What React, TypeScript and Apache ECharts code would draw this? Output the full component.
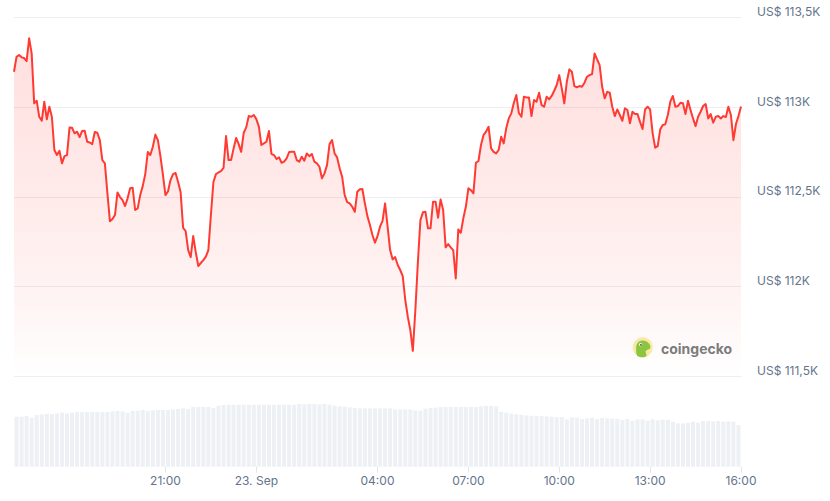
import React, { useEffect, useRef } from "react";
import * as echarts from "echarts";

// Bitcoin price (US$), 5-minute steps from 22 Sep 16:00 to 23 Sep 16:00
const PRICES: number[] = [
  113197, 113280, 113290, 113277, 113273, 113256, 113383, 113299, 113021, 113035,
  112946, 112924, 113030, 112932, 113002, 112946, 112761, 112733, 112757, 112687,
  112727, 112733, 112887, 112885, 112854, 112863, 112833, 112867, 112868, 112807,
  112803, 112794, 112861, 112857, 112816, 112705, 112687, 112521, 112365, 112377,
  112399, 112525, 112499, 112482, 112449, 112492, 112548, 112551, 112427, 112436,
  112510, 112560, 112627, 112750, 112733, 112779, 112847, 112816, 112727, 112622,
  112510, 112530, 112594, 112627, 112633, 112583, 112527, 112327, 112310, 112204,
  112165, 112282, 112193, 112115, 112132, 112148, 112167, 112204, 112399, 112583,
  112627, 112636, 112644, 112661, 112839, 112705, 112705, 112770, 112828, 112794,
  112751, 112857, 112887, 112950, 112946, 112956, 112933, 112891, 112789, 112798,
  112807, 112867, 112739, 112733, 112711, 112720, 112690, 112696, 112715, 112750,
  112751, 112751, 112705, 112696, 112724, 112701, 112742, 112727, 112739, 112696,
  112687, 112668, 112603, 112631, 112677, 112794, 112816, 112742, 112720, 112659,
  112612, 112510, 112471, 112464, 112445, 112417, 112529, 112542, 112544, 112464,
  112393, 112343, 112288, 112245, 112282, 112334, 112367, 112464, 112334, 112204,
  112152, 112165, 112121, 112093, 112059, 111926, 111833, 111759, 111643, 111870,
  112137, 112371, 112414, 112417, 112325, 112325, 112473, 112473, 112384, 112486,
  112427, 112219, 112237, 112219, 112204, 112046, 112319, 112300, 112381, 112445,
  112548, 112538, 112520, 112690, 112700, 112789, 112844, 112863, 112891, 112770,
  112751, 112742, 112761, 112835, 112798, 112882, 112937, 112965, 113023, 113067,
  112967, 112946, 113058, 113054, 113054, 112950, 113039, 113030, 113080, 113011,
  113002, 113058, 113043, 113062, 113091, 113123, 113178, 113104, 113021, 113141,
  113210, 113197, 113117, 113110, 113117, 113113, 113136, 113169, 113178, 113184,
  113299, 113266, 113234, 113113, 113049, 113085, 113080, 113002, 112950, 112987,
  112956, 112924, 112993, 112984, 112910, 112974, 112961, 112961, 112918, 112878,
  112987, 113002, 112987, 112854, 112774, 112783, 112876, 112900, 112904, 112956,
  113030, 113062, 113002, 113006, 113024, 113021, 112961, 113035, 112984, 112937,
  112894, 112946, 112974, 113006, 113017, 112937, 112961, 112913, 112946, 112950,
  112937, 112950, 112945, 113002, 112956, 112816, 112906, 112950, 113003,
];

// Relative trading volume, 10-minute slots over the same 24 hours
const VOLUMES: number[] = [
  50.0, 50.0, 50.7, 49.0, 51.7, 52.3, 52.7, 52.7, 53.3, 54.0,
  53.3, 54.0, 54.7, 54.7, 54.7, 54.7, 54.7, 54.7, 54.7, 55.3,
  55.7, 55.3, 54.0, 55.7, 56.0, 56.7, 55.7, 56.3, 56.7, 56.7,
  56.7, 57.3, 57.7, 58.3, 57.7, 59.7, 59.7, 59.7, 59.7, 58.7,
  61.0, 61.7, 62.0, 62.0, 62.0, 62.0, 62.0, 62.0, 62.0, 62.0,
  62.0, 62.0, 62.0, 62.0, 62.0, 62.0, 62.7, 62.3, 62.7, 62.7,
  62.3, 62.7, 62.0, 61.0, 60.3, 60.0, 59.3, 58.7, 58.3, 58.3,
  58.3, 58.3, 58.3, 58.3, 58.3, 57.3, 57.3, 57.3, 57.3, 56.3,
  56.0, 58.0, 58.7, 59.0, 59.7, 59.7, 59.7, 59.7, 59.7, 59.7,
  59.7, 59.7, 60.3, 60.7, 60.7, 60.3, 55.0, 54.0, 53.0, 52.3,
  51.7, 51.3, 51.0, 50.7, 50.7, 50.3, 50.0, 49.7, 49.7, 47.3,
  49.3, 49.0, 47.7, 48.3, 49.0, 47.3, 48.7, 48.3, 48.0, 47.7,
  46.7, 47.7, 46.0, 47.3, 47.3, 46.0, 47.3, 46.3, 47.0, 47.0,
  45.0, 43.3, 43.3, 43.7, 45.0, 44.0, 45.7, 45.7, 45.3, 45.7,
  45.0, 45.3, 45.0, 41.7,
];

// x axis: hours after 22 Sep 16:00
const TICK_LABELS: string[] = ["21:00", "23. Sep", "04:00", "07:00", "10:00", "13:00", "16:00"];
const TICK_HOURS: number[] = [5, 8, 12, 15, 18, 21, 24];

const SPAN_HOURS = 24;
const PRICE_STEP_HOURS = 5 / 60;
const LABEL_COLOR = "#64748b";
const FONT = "Inter, 'Noto Sans', sans-serif";

export default function App() {
  const ref = useRef<HTMLDivElement>(null);

  useEffect(() => {
    if (!ref.current) return;
    const chart = echarts.init(ref.current, null, { renderer: "svg" });
    const priceData = PRICES.map((p, i) => [i * PRICE_STEP_HOURS, p]);

    chart.setOption({
      animation: false,
      textStyle: { fontFamily: FONT },
      grid: [
        { left: 14, top: 17.3, width: 727, height: 359.2 },
        { left: 14, top: 379.7, width: 727, height: 87 },
      ],
      xAxis: [
        { type: "value", gridIndex: 0, min: 0, max: SPAN_HOURS, show: false },
        {
          type: "category",
          gridIndex: 1,
          data: VOLUMES.map((_, j) => String(j)),
          boundaryGap: true,
          show: false,
        },
        {
          type: "value",
          gridIndex: 1,
          min: 0,
          max: SPAN_HOURS,
          position: "bottom",
          axisLine: { show: false },
          splitLine: { show: false },
          axisTick: {
            show: true,
            customValues: TICK_HOURS,
            length: 6,
            lineStyle: { color: "#e2e5ea", width: 1 },
          },
          axisLabel: {
            customValues: TICK_HOURS,
            color: LABEL_COLOR,
            fontSize: 12,
            margin: 8,
            fontFamily: FONT,
            showMinLabel: true,
            showMaxLabel: true,
            formatter: (v: number) => {
              const k = TICK_HOURS.indexOf(v);
              return k >= 0 ? TICK_LABELS[k] : "";
            },
          },
        },
      ],
      yAxis: [
        {
          type: "value",
          gridIndex: 0,
          position: "right",
          min: 111500,
          max: 113500,
          interval: 500,
          axisLine: { show: false },
          axisTick: { show: false },
          splitLine: { show: true, lineStyle: { color: "#eceef1", width: 1 } },
          axisLabel: {
            align: "left",
            margin: 16,
            verticalAlign: "bottom",
            lineHeight: 12,
            color: LABEL_COLOR,
            fontSize: 12,
            fontFamily: FONT,
            formatter: (v: number) => "US$ " + String(v / 1000).replace(".", ",") + "K",
          },
        },
        { type: "value", gridIndex: 1, min: 0, max: 87, show: false },
      ],
      series: [
        {
          type: "bar",
          xAxisIndex: 1,
          yAxisIndex: 1,
          data: VOLUMES,
          barWidth: 4,
          itemStyle: { color: "#edf0f4" },
          silent: true,
        },
        {
          type: "line",
          xAxisIndex: 0,
          yAxisIndex: 0,
          data: priceData,
          showSymbol: false,
          symbol: "none",
          lineStyle: { color: "#ff3a33", width: 2, join: "round" },
          areaStyle: {
            color: new echarts.graphic.LinearGradient(0, 0, 0, 1, [
              { offset: 0, color: "rgba(255,58,51,0.23)" },
              { offset: 0.5, color: "rgba(255,58,51,0.14)" },
              { offset: 0.8, color: "rgba(255,58,51,0.07)" },
              { offset: 1, color: "rgba(255,58,51,0)" },
            ]),
          },
          z: 3,
        },
      ],
      graphic: [
        {
          type: "circle",
          shape: { cx: 642.7, cy: 347.3, r: 10 },
          style: { fill: "#f9e8a6" },
          z: 10,
        },
        {
          type: "polygon",
          shape: {
            points: [
              [637, 355.5],
              [636.3, 346],
              [638.3, 342.3],
              [642, 340.6],
              [646.5, 341.6],
              [649.8, 344.8],
              [650.2, 348.3],
              [647.2, 350],
              [645.6, 351.3],
              [646.4, 356],
              [642, 357.3],
            ],
            smooth: 0.3,
          },
          style: { fill: "#8cc540" },
          z: 11,
        },
        {
          type: "circle",
          shape: { cx: 640.6, cy: 344.6, r: 1.7 },
          style: { fill: "#ffffff" },
          z: 12,
        },
        {
          type: "circle",
          shape: { cx: 640.9, cy: 344.9, r: 0.9 },
          style: { fill: "#5a5a5a" },
          z: 13,
        },
        {
          type: "text",
          x: 661,
          y: 348,
          style: {
            text: "coingecko",
            fill: "#7c7c7c",
            font: "bold 14px " + FONT,
            verticalAlign: "middle",
          },
          z: 10,
        },
      ],
    });

    return () => chart.dispose();
  }, []);

  return (
    <div
      ref={ref}
      style={{ position: "fixed", left: 0, top: 0, width: 830, height: 501, background: "#ffffff" }}
    />
  );
}
